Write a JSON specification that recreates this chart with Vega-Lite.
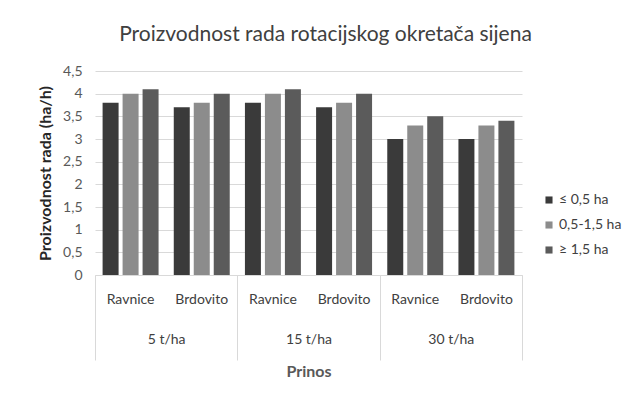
{
  "$schema": "https://vega.github.io/schema/vega-lite/v6.json",
  "width": 427,
  "height": 204,
  "autosize": {"type": "none"},
  "padding": {"left": 95, "top": 71, "right": 115, "bottom": 123},
  "background": "white",
  "title": {
    "text": "Proizvodnost rada rotacijskog okretača sijena",
    "fontSize": 21,
    "fontWeight": "normal",
    "font": "Lato",
    "color": "#404040",
    "anchor": "middle",
    "dx": 17,
    "offset": 19
  },
  "config": {
    "font": "Lato",
    "view": {"stroke": null}
  },
  "data": {
    "values": [
      {"grp": "5 t/ha|Ravnice", "yield": "5 t/ha", "series": "≤ 0,5 ha", "v": 3.8},
      {"grp": "5 t/ha|Ravnice", "yield": "5 t/ha", "series": "0,5-1,5 ha", "v": 4.0},
      {"grp": "5 t/ha|Ravnice", "yield": "5 t/ha", "series": "≥ 1,5 ha", "v": 4.1},
      {"grp": "5 t/ha|Brdovito", "yield": "5 t/ha", "series": "≤ 0,5 ha", "v": 3.7},
      {"grp": "5 t/ha|Brdovito", "yield": "5 t/ha", "series": "0,5-1,5 ha", "v": 3.8},
      {"grp": "5 t/ha|Brdovito", "yield": "5 t/ha", "series": "≥ 1,5 ha", "v": 4.0},
      {"grp": "15 t/ha|Ravnice", "yield": "15 t/ha", "series": "≤ 0,5 ha", "v": 3.8},
      {"grp": "15 t/ha|Ravnice", "yield": "15 t/ha", "series": "0,5-1,5 ha", "v": 4.0},
      {"grp": "15 t/ha|Ravnice", "yield": "15 t/ha", "series": "≥ 1,5 ha", "v": 4.1},
      {"grp": "15 t/ha|Brdovito", "yield": "15 t/ha", "series": "≤ 0,5 ha", "v": 3.7},
      {"grp": "15 t/ha|Brdovito", "yield": "15 t/ha", "series": "0,5-1,5 ha", "v": 3.8},
      {"grp": "15 t/ha|Brdovito", "yield": "15 t/ha", "series": "≥ 1,5 ha", "v": 4.0},
      {"grp": "30 t/ha|Ravnice", "yield": "30 t/ha", "series": "≤ 0,5 ha", "v": 3.0},
      {"grp": "30 t/ha|Ravnice", "yield": "30 t/ha", "series": "0,5-1,5 ha", "v": 3.3},
      {"grp": "30 t/ha|Ravnice", "yield": "30 t/ha", "series": "≥ 1,5 ha", "v": 3.5},
      {"grp": "30 t/ha|Brdovito", "yield": "30 t/ha", "series": "≤ 0,5 ha", "v": 3.0},
      {"grp": "30 t/ha|Brdovito", "yield": "30 t/ha", "series": "0,5-1,5 ha", "v": 3.3},
      {"grp": "30 t/ha|Brdovito", "yield": "30 t/ha", "series": "≥ 1,5 ha", "v": 3.4}
    ]
  },
  "layer": [
    {
      "mark": {"type": "bar"},
      "encoding": {
        "x": {
          "field": "grp",
          "type": "nominal",
          "sort": null,
          "scale": {"paddingInner": 0, "paddingOuter": 0},
          "axis": {
            "orient": "bottom",
            "title": null,
            "labelExpr": "split(datum.label, '|')[1]",
            "labelAngle": 0,
            "labelFontSize": 14,
            "labelColor": "#404040",
            "labelPadding": 17,
            "ticks": false,
            "domain": true,
            "domainColor": "#d9d9d9",
            "grid": false
          }
        },
        "xOffset": {
          "field": "series",
          "type": "nominal",
          "sort": ["≤ 0,5 ha", "0,5-1,5 ha", "≥ 1,5 ha"],
          "scale": {"paddingInner": 0.2, "paddingOuter": 0.38}
        },
        "y": {
          "field": "v",
          "type": "quantitative",
          "scale": {"domain": [0, 4.5], "nice": false},
          "axis": {
            "title": "Proizvodnost rada (ha/h)",
            "titleFontSize": 16,
            "titleFontWeight": "bold",
            "titleColor": "#262626",
            "titlePadding": 9,
            "values": [0, 0.5, 1, 1.5, 2, 2.5, 3, 3.5, 4, 4.5],
            "labelExpr": "replace(format(datum.value, '~g'), '.', ',')",
            "labelFontSize": 14,
            "labelColor": "#595959",
            "labelPadding": 13,
            "ticks": false,
            "domain": false,
            "grid": true,
            "gridColor": "#d9d9d9"
          }
        },
        "color": {
          "field": "series",
          "type": "nominal",
          "sort": ["≤ 0,5 ha", "0,5-1,5 ha", "≥ 1,5 ha"],
          "scale": {"range": ["#3a3a3a", "#8c8c8c", "#5b5b5b"]},
          "legend": {
            "title": null,
            "orient": "none",
            "legendX": 447,
            "legendY": 122,
            "symbolType": "square",
            "symbolSize": 50,
            "symbolStrokeWidth": 0,
            "labelFontSize": 14,
            "labelColor": "#404040",
            "rowPadding": 11,
            "labelOffset": 3
          }
        }
      }
    },
    {
      "mark": {"type": "rule", "opacity": 0},
      "encoding": {
        "x": {
          "field": "yield",
          "type": "nominal",
          "sort": null,
          "scale": {"paddingInner": 0, "paddingOuter": 0},
          "axis": {
            "orient": "bottom",
            "title": "Prinos",
            "titleFontSize": 16,
            "titleFontWeight": "bold",
            "titleColor": "#595959",
            "titlePadding": 3,
            "labelAngle": 0,
            "labelFontSize": 14,
            "labelColor": "#404040",
            "tickBand": "extent",
            "ticks": true,
            "tickSize": 85,
            "tickColor": "#d9d9d9",
            "labelPadding": -28,
            "domain": false,
            "grid": false
          }
        }
      }
    }
  ],
  "resolve": {"scale": {"x": "independent"}, "axis": {"x": "independent"}}
}
